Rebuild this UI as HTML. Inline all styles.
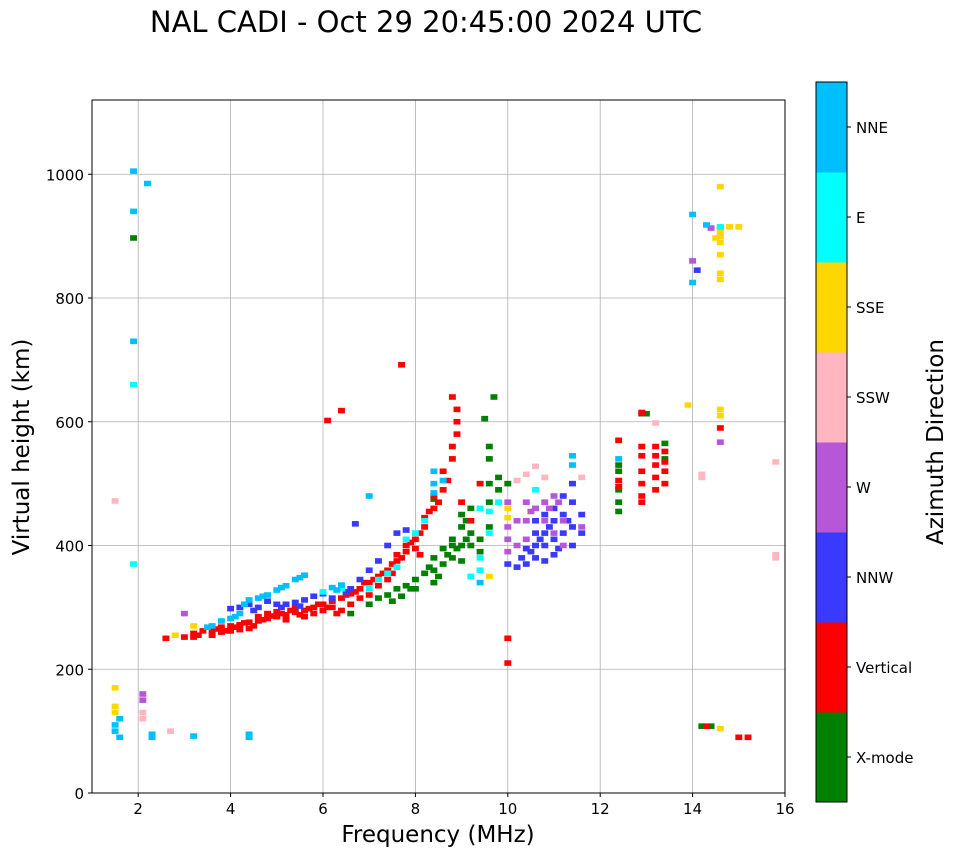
<!DOCTYPE html>
<html><head><meta charset="utf-8">
<style>
html,body{margin:0;padding:0;background:#fff;}
svg{display:block;font-family:"DejaVu Sans","Liberation Sans",sans-serif;}
</style></head>
<body>
<svg id="chart" width="958" height="857" viewBox="0 0 958 857">
<text x="426" y="32" font-size="29" text-anchor="middle">NAL CADI - Oct 29 20:45:00 2024 UTC</text>
<g id="grid"></g>
<g id="marks"></g>
<rect x="92" y="100" width="693" height="693" fill="none" stroke="#000" stroke-width="1"/>
<g id="axes"></g>
<text x="438" y="842" font-size="23" text-anchor="middle">Frequency (MHz)</text>
<text transform="translate(29,447) rotate(-90)" font-size="23" text-anchor="middle">Virtual height (km)</text>
<g id="cbar"></g>
<text transform="translate(943,442) rotate(-90)" font-size="23" text-anchor="middle">Azimuth Direction</text>
</svg>
<script>
const xTicks=[2,4,6,8,10,12,14,16];
const yTicks=[0,200,400,600,800,1000];
const modeNames=["X-mode","Vertical","NNW","W","SSW","SSE","E","NNE"];
const modeColors=["#008000","#ff0000","#3a3aff","#b557d6","#ffb6c1","#ffd700","#00ffff","#00bfff"];
const xmode=[[1.9,897],[6.6,290],[7.0,305],[7.2,315],[7.4,320],[7.6,330],[7.8,335],[7.7,318],[8.0,345],[8.0,330],[8.2,355],[8.4,340],[8.4,360],[8.4,380],[8.6,370],[8.6,395],[8.8,380],[8.8,400],[8.8,410],[9.0,375],[9.0,400],[9.0,430],[9.0,450],[9.1,440],[9.1,410],[9.2,400],[9.2,420],[9.2,460],[9.4,390],[9.4,410],[9.6,430],[9.6,470],[9.6,500],[9.6,540],[9.6,560],[9.8,490],[9.8,510],[10.0,500],[9.7,640],[9.5,605],[12.4,455],[12.4,470],[12.4,490],[12.4,520],[12.4,530],[13.0,613],[12.9,613],[13.4,540],[13.4,565],[14.2,108],[14.4,108],[8.4,475],[7.9,330],[8.3,365],[8.5,350],[8.7,385],[8.9,395],[7.5,310]];
const vertical=[[2.6,250],[3.0,252],[3.2,258],[3.2,252],[3.3,255],[3.4,262],[3.6,262],[3.6,255],[3.7,265],[3.8,268],[3.8,260],[3.9,262],[4.0,270],[4.0,262],[4.1,268],[4.2,272],[4.2,264],[4.3,275],[4.4,276],[4.4,266],[4.5,270],[4.6,278],[4.6,285],[4.7,280],[4.8,282],[4.8,290],[4.9,286],[5.0,285],[5.0,293],[5.1,290],[5.2,288],[5.2,280],[5.3,295],[5.4,292],[5.4,300],[5.5,288],[5.6,295],[5.6,285],[5.7,298],[5.8,300],[5.8,290],[5.9,305],[6.0,305],[6.0,295],[6.1,300],[6.2,310],[6.2,300],[6.3,290],[6.4,315],[6.4,295],[6.5,320],[6.6,322],[6.6,305],[6.7,325],[6.8,330],[6.8,315],[6.9,340],[7.0,340],[7.0,320],[7.1,345],[7.2,350],[7.2,335],[7.3,355],[7.4,360],[7.4,345],[7.5,370],[7.6,375],[7.6,385],[7.7,380],[7.8,390],[7.8,400],[7.9,405],[8.0,410],[8.0,395],[8.1,420],[8.2,430],[8.2,445],[8.3,455],[8.4,460],[8.4,480],[8.5,470],[8.6,490],[8.6,520],[8.7,505],[8.8,560],[8.8,540],[8.9,600],[8.9,620],[8.8,640],[8.9,580],[10.0,250],[10.0,210],[7.7,692],[6.4,618],[6.1,602],[12.4,570],[12.4,505],[12.4,495],[12.9,470],[12.9,480],[12.9,500],[12.9,520],[12.9,545],[12.9,560],[12.9,615],[13.2,490],[13.2,510],[13.2,530],[13.2,545],[13.2,560],[13.4,500],[13.4,520],[13.4,535],[13.4,552],[14.6,590],[15.0,90],[15.2,90],[14.3,108],[9.2,440],[9.4,500],[9.0,470],[8.1,385],[7.5,355]];
const nnw=[[4.0,298],[4.2,300],[4.4,305],[4.6,300],[4.8,310],[5.0,305],[5.2,305],[5.4,308],[5.6,312],[5.8,318],[6.0,322],[6.2,315],[6.6,330],[6.8,345],[7.0,360],[7.2,375],[7.4,400],[7.6,420],[7.8,425],[6.7,435],[10.0,370],[10.2,365],[10.4,370],[10.6,380],[10.6,400],[10.6,420],[10.6,440],[10.8,400],[10.8,420],[10.8,450],[11.0,385],[11.0,410],[11.0,440],[11.0,460],[11.2,420],[11.2,450],[11.2,480],[11.4,400],[11.4,430],[11.4,470],[11.4,500],[11.6,450],[11.6,420],[14.1,845],[10.4,395],[10.8,375],[4.5,295],[5.1,300],[5.5,302],[6.5,325],[10.3,380],[10.5,390],[10.7,410],[10.9,430],[11.1,395],[11.3,440]];
const w=[[10.0,390],[10.0,410],[10.0,430],[10.0,470],[10.2,400],[10.2,440],[10.4,410],[10.4,440],[10.4,470],[10.6,460],[10.8,440],[10.8,470],[11.0,420],[11.0,480],[11.2,440],[11.2,400],[11.6,430],[14.0,860],[14.6,567],[14.6,913],[14.4,913],[2.1,150],[2.1,160],[3.0,290],[10.5,455],[10.9,460],[11.1,470]];
const ssw=[[10.2,505],[10.4,515],[10.6,528],[10.8,510],[13.2,598],[14.2,510],[14.2,515],[15.8,535],[15.8,385],[15.8,380],[2.1,130],[2.1,120],[1.5,472],[2.7,100],[11.6,510]];
const sse=[[14.6,980],[14.6,830],[14.6,840],[14.6,870],[14.6,890],[14.6,900],[14.6,908],[15.0,915],[14.8,915],[14.5,897],[13.9,627],[14.6,620],[14.6,610],[10.0,460],[10.0,445],[9.6,350],[1.5,170],[1.5,140],[1.5,130],[14.6,104],[3.2,270],[2.8,255]];
const east=[[7.0,330],[7.2,345],[7.4,355],[7.6,365],[7.8,410],[8.0,420],[8.2,440],[9.2,350],[9.4,360],[9.4,380],[9.6,420],[9.4,460],[9.6,455],[14.6,915],[1.9,660],[1.9,370],[6.4,330],[6.0,325],[9.8,470],[10.6,490]];
const nne=[[3.6,270],[3.8,278],[4.0,282],[4.2,290],[4.4,312],[4.6,315],[4.8,320],[5.0,328],[5.2,335],[5.4,345],[5.6,352],[6.2,332],[6.4,336],[8.4,485],[8.4,500],[8.4,520],[8.6,505],[1.9,1005],[1.9,940],[2.2,985],[1.9,730],[14.0,935],[14.3,918],[14.0,825],[11.4,545],[11.4,530],[12.4,540],[2.3,95],[2.3,90],[1.5,100],[1.5,110],[1.6,120],[4.4,95],[4.4,90],[9.4,340],[3.2,92],[7.0,480],[1.6,90],[3.5,268],[4.1,285],[4.3,305],[4.7,318],[5.1,332],[5.5,348],[6.3,328]];
const series=[xmode,vertical,nnw,w,ssw,sse,east,nne];

const NS="http://www.w3.org/2000/svg";
const X0=92,X1=785,Y0=793,Y1=100,FMIN=1,FMAX=16,HMIN=0,HMAX=1120;
function xs(f){return X0+(f-FMIN)/(FMAX-FMIN)*(X1-X0);}
function ys(h){return Y0-(h-HMIN)/(HMAX-HMIN)*(Y0-Y1);}
function mk(tag,attrs,parent){const e=document.createElementNS(NS,tag);for(const k in attrs)e.setAttribute(k,attrs[k]);parent.appendChild(e);return e;}
const grid=document.getElementById('grid'),axes=document.getElementById('axes'),marks=document.getElementById('marks'),cbar=document.getElementById('cbar');
xTicks.forEach(t=>{const x=xs(t);
 if(t<FMAX){const g=mk('line',{x1:x,x2:x,y1:Y1,y2:Y0,stroke:'#b0b0b0','stroke-width':0.8},grid);
 
 }
 const tk=mk('line',{x1:x,x2:x,y1:Y0,y2:Y0+4,stroke:'#000'},axes);
 
 
 const tx=mk('text',{x:x,y:Y0+21,'font-size':15,'text-anchor':'middle'},axes);tx.textContent=t;
 
 });
yTicks.forEach(t=>{const y=ys(t);
 const g=mk('line',{x1:X0,x2:X1,y1:y,y2:y,stroke:'#b0b0b0','stroke-width':0.8},grid);
 
 
 const tk=mk('line',{x1:X0-4,x2:X0,y1:y,y2:y,stroke:'#000'},axes);
 
 
 const tx=mk('text',{x:X0-8,y:y+6,'font-size':15,'text-anchor':'end'},axes);tx.textContent=t;
 
 });
const CW=0.15,CH=9;
series.forEach((pts,i)=>{pts.forEach(p=>{
 const r=mk('rect',{x:xs(p[0]-CW/2),y:ys(p[1]+CH/2),width:xs(CW)-xs(0),height:ys(0)-ys(CH),fill:modeColors[i]},marks);
 
 });});
const CX=816,CWid=31,CT=82,CB=802,seg=(CB-CT)/modeNames.length;
modeNames.forEach((n,i)=>{const y=CB-(i+1)*seg;
 const r=mk('rect',{x:CX,y:y,width:CWid,height:seg+0.5,fill:modeColors[i]},cbar);
 
 
 const tk=mk('line',{x1:CX+CWid,x2:CX+CWid+4,y1:y+seg/2,y2:y+seg/2,stroke:'#000'},cbar);
 
 
 const tx=mk('text',{x:CX+CWid+9,y:y+seg/2+6,'font-size':15},cbar);tx.textContent=n;
 
 });
const fr=mk('rect',{x:CX,y:CT,width:CWid,height:CB-CT,fill:'none',stroke:'#000'},cbar);


</script>
</body></html>
